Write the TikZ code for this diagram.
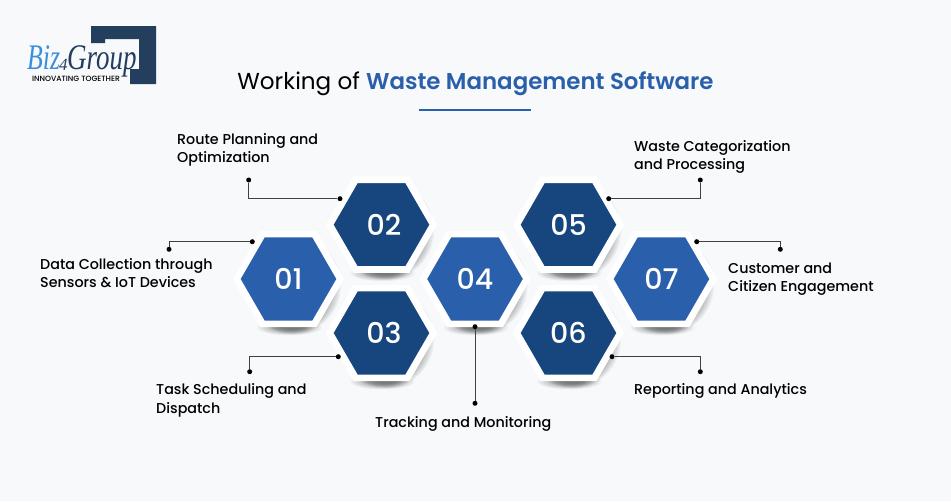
\documentclass[tikz,border=0pt]{standalone}
\usepackage{fontspec}
\setmainfont{Poppins}[UprightFont=* Medium, BoldFont=* SemiBold]
\newfontfamily\plainfont{Poppins}
\newfontfamily\logofont{Liberation Serif}
\usetikzlibrary{shapes.geometric}
\definecolor{pagebg}{HTML}{F8F9FB}
\definecolor{lightblue}{HTML}{2A5FAB}
\definecolor{darkblue}{HTML}{17467F}
\definecolor{logonavy}{HTML}{243E5E}
\definecolor{logosky}{HTML}{3C8FDD}
\tikzset{
  hexlight/.style={regular polygon, regular polygon sides=6,
    minimum size=103.6pt, inner sep=0pt, fill=lightblue, draw=white, line width=6.7pt, text=white,
    font=\fontsize{28.5}{29}\selectfont},
  hexdark/.style={hexlight, fill=darkblue},
  tag/.style={circle, fill=black, inner sep=0pt, minimum size=5pt},
  lead/.style={draw=black!75, line width=0.9pt},
  caption/.style={align=left, anchor=north west, inner sep=0pt, text=black,
    font=\fontsize{14.3}{18.5}\selectfont},
}
\begin{document}
\begin{tikzpicture}[x=1pt, y=-1pt]
  \useasboundingbox (0,0) rectangle (951,501);
  \fill[pagebg] (0,0) rectangle (951,501);

  % logo
  \fill[logonavy] (91,26) -- (156,26) -- (156,84) -- (130,84) -- (130,69) -- (139,69)
    -- (139,39) -- (105,39) -- (105,43) -- (91,43) -- cycle;
  \node[inner sep=0pt, anchor=base west, xscale=.86, yscale=1.2, transform shape, text=logosky] (logobiz) at (27,69)
    {\logofont\itshape\fontsize{30}{30}\selectfont Biz};
  \node[inner sep=0pt, anchor=base west, text=logonavy] (logofour) at (59,70)
    {\logofont\itshape\fontsize{17}{17}\selectfont 4};
  \node[inner sep=0pt, anchor=base west, xscale=.9, yscale=1.2, transform shape, text=logonavy] (logogroup) at (67,69)
    {\logofont\itshape\fontsize{30}{30}\selectfont Group};
  \node[inner sep=0pt, anchor=base west, text=black] (logotag) at (32,81)
    {\fontsize{7.6}{8}\selectfont INNOVATING TOGETHER};

  % title
  \node[inner sep=0pt, anchor=base] (title) at (475.5,89)
    {\plainfont\fontsize{23.1}{28}\selectfont Working of {\setmainfont{Poppins}[UprightFont=* SemiBold]\color{lightblue}\fontsize{22.9}{28}\selectfont Waste Management Software}};
  \draw[lightblue, line width=1.5pt] (419,110) -- (531,110);

  % soft shadows under the cells
  \foreach \x/\y in {288.5/279, 381.5/224.7, 381.5/333, 475/279, 568.5/224.7, 568.5/333, 661.5/279} {
    \foreach \k in {1,...,10} {
      \fill[black, opacity=0.035] (\x+4, \y+6) ellipse (50-\k*1.2 and 50-\k*0.6);
      \fill[black, opacity=0.03] (\x+1, \y+48.5) ellipse (34-\k*1.8 and 8.5-\k*0.5);
    }
  }

  % cells
  \node[hexlight] (cell1) at (288.5,279) {01};
  \node[hexdark] (cell2) at (381.5,224.7) {\kern5pt 02};
  \node[hexdark] (cell3) at (381.5,333) {\kern5pt 03};
  \node[hexlight] (cell4) at (475,279) {04};
  \node[hexdark] (cell5) at (568.5,224.7) {05};
  \node[hexdark] (cell6) at (568.5,333) {06};
  \node[hexlight] (cell7) at (661.5,279) {07};

  % connectors
  \node[tag] (a1) at (252.3,241.7) {};
  \node[tag] (b1) at (169,249.3) {};
  \node[tag] (a2) at (340,198.7) {};
  \node[tag] (b2) at (248.7,180) {};
  \node[tag] (a3) at (338.3,356.7) {};
  \node[tag] (b3) at (249.7,371.7) {};
  \node[tag] (a4) at (475,326.7) {};
  \node[tag] (b4) at (475,403.3) {};
  \node[tag] (a5) at (608.7,198.7) {};
  \node[tag] (b5) at (700.3,180) {};
  \node[tag] (a6) at (612,356.7) {};
  \node[tag] (b6) at (700.3,371.7) {};
  \node[tag] (a7) at (696.7,241.7) {};
  \node[tag] (b7) at (780.3,249.3) {};
  \draw[lead] (a1) -| (b1);
  \draw[lead] (a2) -| (b2);
  \draw[lead] (a3) -| (b3);
  \draw[lead] (a4) -- (b4);
  \draw[lead] (a5) -| (b5);
  \draw[lead] (a6) -| (b6);
  \draw[lead] (a7) -| (b7);

  % labels
  \node[caption] (text1) at (40,258) {Data Collection through\\Sensors \& IoT Devices};
  \node[caption] (text2) at (177,133) {Route Planning and\\Optimization};
  \node[caption] (text3) at (156,383.5) {Task Scheduling and\\Dispatch};
  \node[caption] (text4) at (375,416.5) {Tracking and Monitoring};
  \node[caption] (text5) at (634,140) {Waste Categorization\\and Processing};
  \node[caption] (text6) at (634,383) {Reporting and Analytics};
  \node[caption] (text7) at (728,262.5) {Customer and\\Citizen Engagement};
\end{tikzpicture}
\end{document}
